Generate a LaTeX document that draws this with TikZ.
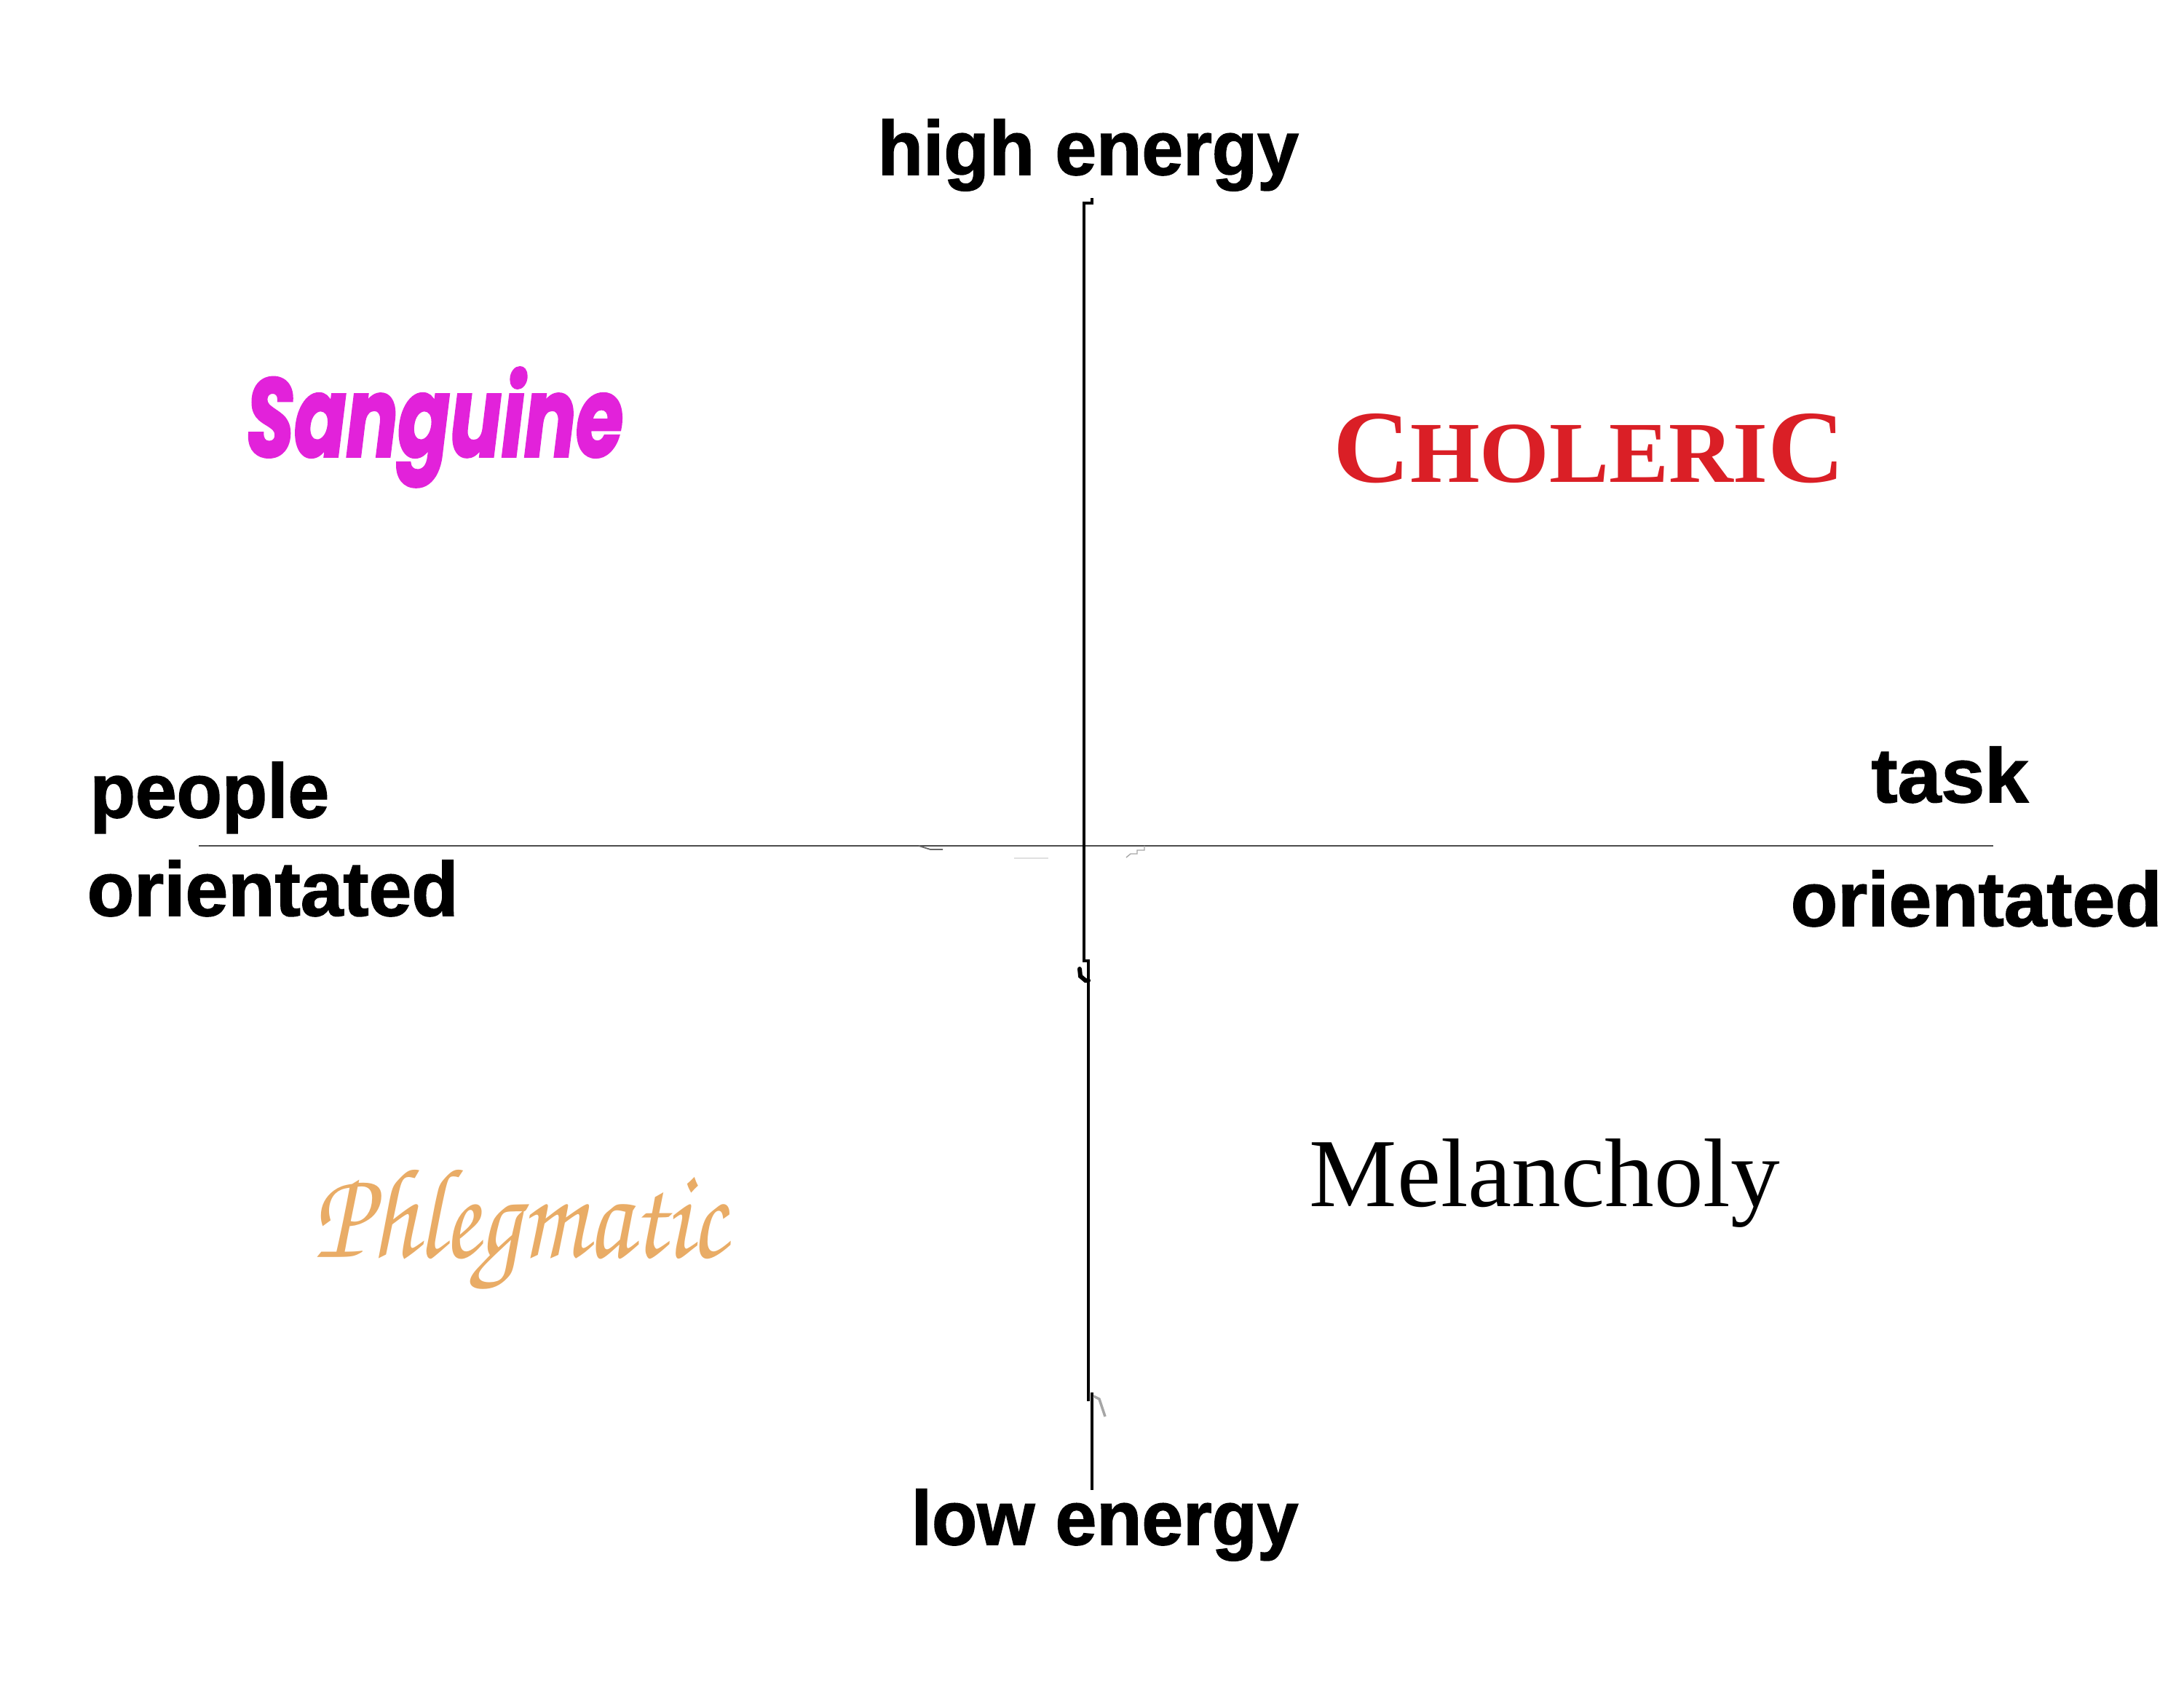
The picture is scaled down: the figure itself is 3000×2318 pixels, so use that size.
\documentclass[tikz,border=0pt]{standalone}
\usepackage{fontspec}
\setmainfont{Liberation Serif}
\newfontfamily\labfont{Liberation Sans}[FakeBold=1.5]
\newfontfamily\serfont{Liberation Serif}
\newfontfamily\sangfont{Poppins}[FakeBold=2.5]
\newfontfamily\chorusfont{texgyrechorus-mediumitalic.otf}
\definecolor{cholred}{RGB}{218,31,38}
\definecolor{sangmag}{RGB}{226,34,218}
\definecolor{phltan}{RGB}{233,172,102}
\begin{document}
\begin{tikzpicture}[x=0.01cm,y=-0.01cm,
  lab/.style={anchor=base west, inner sep=0pt, font=\labfont\bfseries\fontsize{30}{30}\selectfont},
  word/.style={anchor=base west, inner sep=0pt},
  vaxis/.style={line width=1.35pt, black},
  haxis/.style={line width=0.6pt, black!70}]
\useasboundingbox (0,0) rectangle (3000,2318);
\fill[white] (0,0) rectangle (3000,2318);

% axis coordinates
\coordinate (vtop) at (1500,272);
\coordinate (vk1) at (1500,279);
\coordinate (vk2) at (1489,279);
\coordinate (vk3) at (1489,1320);
\coordinate (vk4) at (1495,1320);
\coordinate (vk5) at (1495,1925);
\coordinate (vk6) at (1500,1913);
\coordinate (vbot) at (1500,2047);
\coordinate (hleft) at (273,1162);
\coordinate (hright) at (2738,1162);

% horizontal axis
\draw[haxis] (hleft) -- (hright);
% vertical axis
\draw[vaxis] (vtop) -- (vk1) -- (vk2) -- (vk3) -- (vk4) -- (vk5);
\draw[vaxis, line width=1.15pt] (vk6) -- (vbot);
\draw[line width=1.7pt, line cap=round] (1483,1331) -- (1484,1341) -- (1491,1347) -- (1495,1347);

% small artefacts
\draw[black!60, line width=0.5pt] (1262,1162) -- (1278,1167) -- (1295,1167);
\draw[black!35, line width=0.4pt] (1572,1162) -- (1572,1168) -- (1562,1168) -- (1562,1173) -- (1553,1173) -- (1547,1178);
\draw[black!12, line width=0.6pt] (1393,1179) -- (1440,1179);
\draw[black!35, line width=1pt] (1502,1918) -- (1510,1922) -- (1518,1946);

% axis labels
\node[lab] (high) at (1205,240) {\scalebox{0.967}[1]{high energy}};
\node[lab] (low) at (1251,2122) {\scalebox{0.965}[1]{low energy}};
\node[lab] (people) at (123,1123) {\scalebox{0.966}[1]{people}};
\node[lab] (orl) at (119,1258) {orientated};
\node[lab] (task) at (2570,1102) {\scalebox{1.02}[1]{task}};
\node[lab] (orr) at (2459,1272) {orientated};

% temperaments
\node[word, text=sangmag] (sang) at (338,627)
  {\resizebox{5.17cm}{1.22cm}{\sangfont\bfseries\itshape Sanguine}};
\node[word, text=cholred] (chol) at (1831,662)
  {\scalebox{1.03}[1]{\serfont\bfseries\fontsize{40.4}{40}\selectfont C\fontsize{33.9}{34}\selectfont HOLERI\fontsize{40.4}{40}\selectfont C}};
\node[word, text=phltan] (phleg) at (430,1727)
  {\resizebox{5.67cm}{1.2cm}{\chorusfont Phlegmatic}};
\node[word] (mel) at (1798,1657)
  {\scalebox{1.01}[1]{\serfont\fontsize{38.1}{38}\selectfont Melancholy}};
\end{tikzpicture}
\end{document}
